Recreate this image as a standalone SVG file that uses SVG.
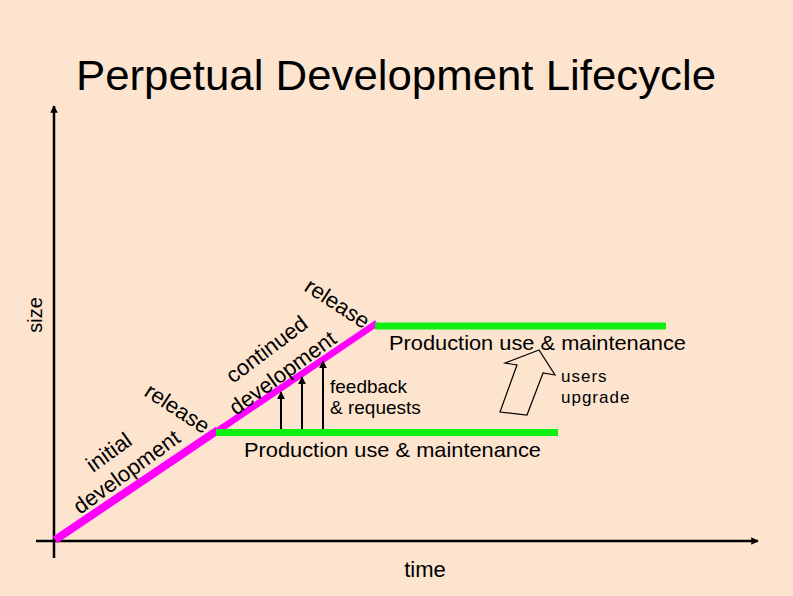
<svg xmlns="http://www.w3.org/2000/svg" width="793" height="596" viewBox="0 0 793 596">
<style>
  text { font-family: "Liberation Sans", Arial, sans-serif; fill: #000; }
  .axis { stroke: #000; stroke-width: 2.5; fill: none; }
  .dev { stroke: #FF00FF; fill: none; stroke-linecap: butt; }
  .prod { stroke: #10F010; stroke-width: 7; fill: none; }
  .fb { stroke: #000; stroke-width: 2; fill: none; }
  .lbl { font-size: 22px; }
</style>
<defs>
  <marker id="ah" viewBox="0 0 10 10" refX="9" refY="5" markerWidth="3" markerHeight="3" orient="auto" markerUnits="strokeWidth">
    <path d="M0,0 L10,5 L0,10 z" fill="#000"/>
  </marker>
  <marker id="ah2" viewBox="0 0 10 10" refX="9" refY="5" markerWidth="4" markerHeight="4" orient="auto" markerUnits="strokeWidth">
    <path d="M0,0 L10,5 L0,10 z" fill="#000"/>
  </marker>
</defs>
<rect width="793" height="596" fill="#FDE4CE"/>
<g id="title">
  <text x="396" y="90" font-size="42" text-anchor="middle" textLength="640" lengthAdjust="spacingAndGlyphs">Perpetual Development Lifecycle</text>
</g>
<g id="axes">
  <line class="axis" x1="54" y1="558" x2="54" y2="106" marker-end="url(#ah)"/>
  <line class="axis" x1="36" y1="541" x2="758" y2="541" marker-end="url(#ah)"/>
  <text transform="translate(42,315) rotate(-90)" font-size="20" text-anchor="middle">size</text>
  <text x="425" y="577" font-size="22" text-anchor="middle">time</text>
</g>
<g id="connectors">
  <line class="dev" stroke-width="8" x1="55" y1="540" x2="218" y2="430"/>
  <line class="dev" stroke-width="6.5" x1="216" y1="432" x2="377" y2="323"/>
  <line class="fb" x1="281" y1="432" x2="281" y2="392" marker-end="url(#ah2)"/>
  <line class="fb" x1="302" y1="432" x2="302" y2="377" marker-end="url(#ah2)"/>
  <line class="fb" x1="323" y1="432" x2="323" y2="361" marker-end="url(#ah2)"/>
  <polygon points="539,350 505,363 517,365 500,412 527,415 543,373 555,375" fill="none" stroke="#000" stroke-width="1.2"/>
</g>
<g id="initial-development">
  <text class="lbl" transform="translate(93,473) rotate(-36)">initial</text>
  <text class="lbl" transform="translate(80,515) rotate(-36)">development</text>
</g>
<g id="release-1">
  <text class="lbl" transform="translate(143,395) rotate(33)">release</text>
</g>
<g id="production-1">
  <line class="prod" x1="216" y1="432.5" x2="558" y2="432.5"/>
  <text x="244" y="457" font-size="21" textLength="297" lengthAdjust="spacingAndGlyphs">Production use &amp; maintenance</text>
</g>
<g id="continued-development">
  <text class="lbl" transform="translate(233,384) rotate(-37)">continued</text>
  <text class="lbl" transform="translate(236,416) rotate(-36)">development</text>
</g>
<g id="feedback">
  <text x="330" y="393" font-size="19">feedback</text>
  <text x="330" y="414" font-size="19">&amp; requests</text>
</g>
<g id="release-2">
  <text class="lbl" transform="translate(303,290) rotate(33)">release</text>
</g>
<g id="production-2">
  <line class="prod" x1="375" y1="326" x2="666" y2="326"/>
  <text x="389" y="350" font-size="21" textLength="297" lengthAdjust="spacingAndGlyphs">Production use &amp; maintenance</text>
</g>
<g id="users-upgrade">
  <text x="561" y="382" font-size="17" letter-spacing="1">users</text>
  <text x="561" y="403" font-size="17" letter-spacing="1">upgrade</text>
</g>
</svg>
